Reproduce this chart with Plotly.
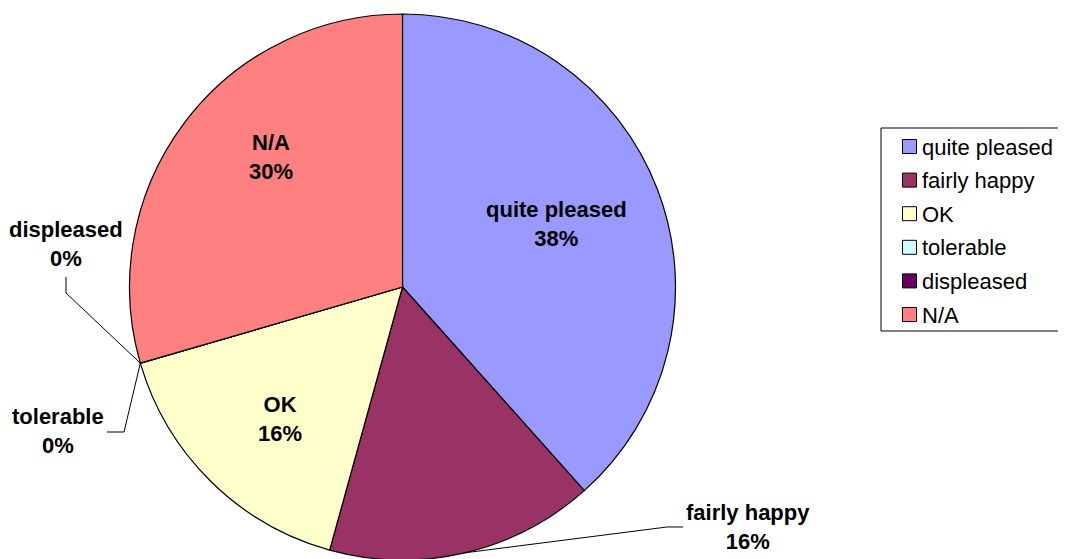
import math
import plotly.graph_objects as go

# Survey answers (share of respondents, %)
labels = ['quite pleased', 'fairly happy', 'OK', 'tolerable', 'displeased', 'N/A']
values = [38.4, 15.9, 16.2, 0.0, 0.0, 29.5]
colors = ['#9999FF', '#993366', '#FFFFCC', '#CCFFFF', '#660066', '#FF8080']

W, H = 1066, 559
OFF = 8            # the page body adds an 8px margin around the plot
MT, MB = 6, 7
FONT = 'Liberation Sans, Arial, sans-serif'


def to_paper(px, py):
    # page pixel position -> paper coordinates
    return (px - OFF) / W, (H - (py - OFF) - MB) / (H - MT - MB)


total = sum(values)
pct = [int(v / total * 100 + 0.5 + 1e-9) for v in values]

# pie geometry on the page, in pixels
R = (H - MT - MB) / 2
cx, cy = 402.5, OFF + MT + R

fig = go.Figure()
fig.add_trace(go.Pie(
    labels=labels,
    values=values,
    marker=dict(colors=colors, line=dict(color='black', width=1.2)),
    sort=False,
    direction='clockwise',
    rotation=0,
    textinfo='none',
    hoverinfo='label+percent',
    domain=dict(x=[0, 2 * (cx - OFF) / W], y=[0, 1]),
    showlegend=False,
))


def edge_point(i):
    start = sum(values[:i]) / total * 360
    mid = math.radians(start + values[i] / total * 180)
    return cx + R * math.sin(mid), cy - R * math.cos(mid)


# data labels: (index, label centre in px)
label_pos = {0: (556, 224), 1: (748, 527), 2: (280, 419),
             3: (58, 431), 4: (66, 244), 5: (271, 157)}
annotations = []
for i, (px, py) in label_pos.items():
    x, y = to_paper(px, py)
    annotations.append(dict(
        x=x, y=y, xref='paper', yref='paper', xanchor='center', yanchor='middle',
        text=f'{labels[i]}<br>{pct[i]}%', showarrow=False,
        font=dict(family=FONT, size=22, color='black', weight='bold'),
    ))

# leader lines for the outside labels: (index, elbow points in px)
leaders = {1: [(683, 527), (667, 527)],
           3: [(107, 432), (124, 432)],
           4: [(66, 277), (66, 293)]}
shapes = []
for i, pts in leaders.items():
    pts = pts + [edge_point(i)]
    path = ''
    for k, (px, py) in enumerate(pts):
        x, y = to_paper(px, py)
        path += ('M' if k == 0 else ' L') + f' {x:.5f},{y:.5f}'
    shapes.append(dict(type='path', path=path, xref='paper', yref='paper',
                       line=dict(color='black', width=1)))

# legend box drawn by hand to match the spacing of the original
x0, y0 = to_paper(881, 128)
x1, y1 = to_paper(1075, 331)
shapes.append(dict(type='rect', xref='paper', yref='paper', x0=x0, y0=y1, x1=x1, y1=y0,
                   line=dict(color='black', width=1), fillcolor='white', layer='below'))
for i, lab in enumerate(labels):
    py = 147 + i * 33.6
    sx0, sy0 = to_paper(902.5, py - 7.5)
    sx1, sy1 = to_paper(916.5, py + 6.5)
    shapes.append(dict(type='rect', xref='paper', yref='paper', x0=sx0, y0=sy1, x1=sx1, y1=sy0,
                       line=dict(color='black', width=1), fillcolor=colors[i]))
    tx, ty = to_paper(920, py)
    annotations.append(dict(
        x=tx, y=ty, xref='paper', yref='paper', xanchor='left', yanchor='middle',
        text=lab, showarrow=False, font=dict(family=FONT, size=22, color='black'),
    ))

fig.update_layout(
    width=W, height=H,
    margin=dict(l=0, r=0, t=MT, b=MB),
    paper_bgcolor='white',
    plot_bgcolor='white',
    showlegend=False,
    annotations=annotations,
    shapes=shapes,
)

fig.write_html('out.html')
